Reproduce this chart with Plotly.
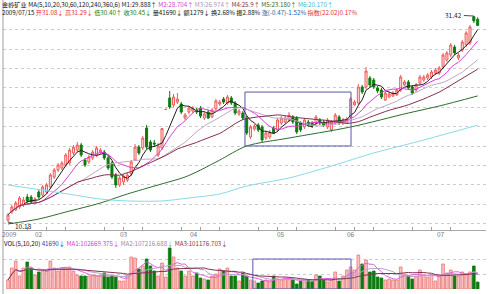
import plotly.graph_objects as go
import pandas as pd

opens = [10.39, 11.21, 11.42, 11.73, 11.93, 12.76, 12.76, 12.24, 13.27, 12.96,
         13.27, 13.79, 14.82, 15.54, 15.75, 16.06, 16.26, 17.30, 17.60, 18.12,
         16.57, 16.37, 16.78, 17.09, 17.40, 17.40, 16.78, 16.26, 15.03, 14.00,
         14.31, 14.51, 15.13, 16.57, 17.91, 17.81, 19.87, 18.43, 18.33, 17.09,
         17.81, 21.79, 22.97, 22.25, 22.55, 22.35, 20.90, 21.52, 21.63, 21.73,
         21.94, 20.90, 21.52, 21.01, 21.83, 22.35, 22.86, 22.45, 22.97, 22.45,
         21.32, 21.42, 20.90, 18.95, 19.77, 20.18, 19.98, 18.84, 18.95, 19.87,
         19.67, 20.39, 20.49, 20.70, 21.01, 20.90, 20.39, 19.98, 20.49, 20.39,
         20.39, 20.70, 20.49, 19.98, 19.67, 20.39, 21.01, 20.39, 20.39, 21.01,
         22.25, 22.45, 24.10, 24.10, 25.03, 24.82, 24.00, 23.79, 22.76, 23.07,
         23.17, 23.28, 23.79, 24.31, 24.62, 24.10, 23.79, 24.51, 24.82, 25.03,
         25.13, 25.54, 25.54, 26.16, 26.88, 27.40, 28.22, 27.09, 27.91, 28.43,
         28.64, 31.35, 31.08]
closes = [10.90, 11.73, 12.14, 12.66, 12.45, 12.35, 12.24, 12.55, 12.76, 13.79,
          14.00, 15.03, 15.54, 16.06, 16.26, 17.09, 17.60, 17.91, 18.12, 17.09,
          16.06, 16.88, 17.40, 17.81, 17.60, 16.78, 15.75, 14.82, 14.00, 14.72,
          14.92, 15.03, 16.37, 17.91, 17.30, 18.84, 17.91, 17.60, 18.22, 18.02,
          19.82, 21.80, 22.04, 23.07, 22.86, 21.52, 21.21, 21.94, 21.94, 21.52,
          21.11, 21.32, 20.90, 21.73, 22.66, 22.55, 22.55, 23.07, 22.45, 21.42,
          21.63, 20.90, 19.36, 19.98, 20.08, 19.67, 18.64, 19.36, 19.46, 19.36,
          20.70, 20.90, 20.90, 21.21, 20.49, 19.46, 19.67, 20.70, 20.18, 20.08,
          21.01, 20.39, 20.18, 20.70, 20.49, 21.21, 20.39, 20.70, 20.80, 22.86,
          22.55, 24.10, 23.58, 25.75, 24.31, 24.10, 23.69, 23.07, 23.48, 23.38,
          23.48, 23.79, 25.13, 24.62, 24.00, 23.48, 24.31, 25.13, 25.13, 25.34,
          25.65, 25.85, 26.06, 27.40, 27.61, 28.43, 27.61, 27.40, 28.74, 29.67,
          30.29, 30.92, 30.45]
highs = [11.11, 11.93, 12.35, 12.86, 12.76, 13.07, 12.96, 12.76, 13.48, 14.00,
         14.20, 15.23, 15.75, 16.26, 16.47, 17.30, 17.81, 18.12, 18.43, 18.33,
         16.78, 17.09, 17.60, 18.02, 17.81, 17.60, 16.99, 16.47, 15.23, 14.92,
         15.13, 15.23, 16.57, 18.22, 18.12, 19.05, 20.18, 18.64, 18.64, 18.33,
         19.82, 21.80, 23.69, 23.38, 23.48, 22.55, 21.42, 22.14, 22.14, 21.94,
         22.14, 21.52, 21.73, 21.94, 22.86, 22.76, 23.07, 23.28, 23.17, 22.66,
         21.83, 21.63, 21.11, 20.18, 20.29, 20.39, 20.18, 19.56, 19.67, 20.08,
         20.90, 21.11, 21.11, 21.52, 21.21, 21.11, 20.59, 20.90, 20.70, 20.59,
         21.21, 20.90, 20.70, 20.90, 20.70, 21.42, 21.21, 20.90, 21.01, 23.07,
         22.76, 24.41, 24.31, 26.16, 25.23, 25.03, 24.20, 24.00, 23.69, 23.58,
         23.69, 24.00, 25.34, 24.82, 24.82, 24.31, 24.51, 25.34, 25.34, 25.54,
         25.85, 26.06, 26.27, 27.61, 27.81, 28.64, 28.43, 27.61, 28.95, 29.87,
         30.49, 31.42, 31.29]
lows = [10.18, 11.01, 11.32, 11.52, 11.73, 12.14, 12.04, 12.04, 12.55, 12.76,
        13.07, 13.58, 14.62, 15.34, 15.54, 15.85, 16.06, 17.09, 17.40, 16.88,
        15.85, 16.16, 16.57, 16.88, 17.19, 16.57, 15.54, 14.62, 13.69, 13.79,
        14.00, 14.31, 14.92, 16.47, 17.09, 17.60, 17.71, 17.40, 17.91, 16.88,
        17.60, 21.79, 21.83, 22.04, 22.35, 21.32, 20.70, 21.32, 21.42, 21.32,
        20.90, 20.70, 20.80, 20.90, 21.63, 22.14, 22.35, 22.25, 22.25, 21.21,
        21.11, 20.70, 19.15, 18.74, 19.56, 19.46, 18.43, 18.64, 18.74, 19.25,
        19.46, 20.18, 20.29, 20.49, 20.29, 19.25, 19.46, 19.77, 19.98, 19.87,
        20.18, 20.18, 19.98, 19.77, 19.46, 20.18, 20.18, 20.18, 20.29, 20.90,
        22.14, 22.25, 23.38, 23.89, 24.10, 23.89, 23.48, 22.86, 22.66, 22.97,
        23.07, 23.17, 23.58, 24.20, 23.79, 23.28, 23.58, 24.31, 24.62, 24.82,
        24.92, 25.34, 25.34, 25.96, 26.68, 27.19, 27.40, 26.88, 27.71, 28.22,
        28.43, 30.70, 30.40]
volumes = [54000, 126000, 168000, 78000, 126000, 162000, 126000, 84000, 102000, 108000,
           108000, 168000, 126000, 108000, 126000, 126000, 132000, 108000, 84000, 78000,
           78000, 78000, 84000, 78000, 78000, 96000, 72000, 78000, 72000, 48000,
           48000, 84000, 192000, 186000, 120000, 138000, 180000, 138000, 108000, 78000,
           156000, 72000, 246000, 192000, 126000, 108000, 78000, 108000, 78000, 96000,
           66000, 60000, 54000, 78000, 90000, 120000, 108000, 126000, 78000, 78000,
           48000, 96000, 78000, 54000, 48000, 36000, 48000, 54000, 48000, 78000,
           60000, 54000, 66000, 60000, 60000, 30000, 48000, 42000, 54000, 48000,
           84000, 78000, 54000, 42000, 54000, 102000, 48000, 78000, 114000, 132000,
           114000, 204000, 150000, 174000, 102000, 108000, 72000, 66000, 54000, 60000,
           54000, 54000, 132000, 90000, 78000, 60000, 78000, 114000, 84000, 72000,
           84000, 48000, 78000, 150000, 96000, 114000, 78000, 78000, 102000, 90000,
           102000, 138000, 41690]

# long moving averages at sample dates
ma60_idx = [0, 8, 15, 24, 31, 39, 46, 50, 55, 62, 73, 89, 104, 112, 122]
ma60_val = [9.98, 10.49, 11.21, 12.14, 13.07, 14.00, 14.82, 15.54, 16.57, 18.02,
            18.84, 19.98, 21.42, 22.14, 23.18]
ma120_idx = [0, 14, 24, 31, 40, 47, 55, 62, 73, 84, 95, 107, 122]
ma120_val = [14.00, 13.17, 12.55, 12.35, 12.35, 12.66, 13.07, 13.89, 14.72, 15.95,
             17.30, 18.53, 20.17]

month_labels = ["2009", "02", "03", "04", "05", "06", "07"]
month_pos = [0.5, 8, 30, 48.3, 71, 89, 112.5]

# highlighted consolidation zone (index range and price / volume range)
BOX_MAIN = dict(i0=61.55, i1=89.1, p0=18.02, p1=23.58)
BOX_VOL = dict(i0=63.6, i1=89.1, v0=0, v1=180000)

idx = list(range(len(closes)))
cs = pd.Series(closes)
vs = pd.Series(volumes)

FONT = "Noto Sans CJK SC"
RED_LINE = "#ee5c5c"
RED_FILL = "#ffe2e2"
GREEN = "#0f7a0f"

fig = go.Figure()
fig.add_trace(go.Candlestick(
    x=idx, open=opens, high=highs, low=lows, close=closes,
    increasing=dict(line=dict(color=RED_LINE, width=1), fillcolor=RED_FILL),
    decreasing=dict(line=dict(color=GREEN, width=1), fillcolor=GREEN),
    whiskerwidth=0, showlegend=False, hoverinfo="skip", xaxis="x", yaxis="y"))

ma_specs = [(5, "#1e1e1e"), (10, "#dc3cdc"), (20, "#c0a8c8"), (30, "#84304e")]
for w, c in ma_specs:
    fig.add_trace(go.Scatter(x=idx, y=cs.rolling(w, min_periods=1).mean(), mode="lines",
                             line=dict(color=c, width=1), showlegend=False,
                             hoverinfo="skip", xaxis="x", yaxis="y"))
fig.add_trace(go.Scatter(x=ma60_idx, y=ma60_val, mode="lines",
                         line=dict(color="#2f6a2f", width=1, shape="spline", smoothing=0.8),
                         showlegend=False, hoverinfo="skip", xaxis="x", yaxis="y"))
fig.add_trace(go.Scatter(x=ma120_idx, y=ma120_val, mode="lines",
                         line=dict(color="#86dbe8", width=1, shape="spline", smoothing=0.8),
                         showlegend=False, hoverinfo="skip", xaxis="x", yaxis="y"))

up = [c >= o for o, c in zip(opens, closes)]
fig.add_trace(go.Bar(
    x=idx, y=volumes,
    marker=dict(color=["#f9c4c4" if u else GREEN for u in up],
                line=dict(color=["#e87474" if u else GREEN for u in up], width=0.8)),
    showlegend=False, hoverinfo="skip", xaxis="x2", yaxis="y2"))
for w, c in [(5, "#e060e0"), (10, "#b8a4cc"), (20, "#84304e")]:
    fig.add_trace(go.Scatter(x=idx, y=vs.rolling(w, min_periods=1).mean(), mode="lines",
                             line=dict(color=c, width=1), showlegend=False,
                             hoverinfo="skip", xaxis="x2", yaxis="y2"))

H = 294.0
def py(p):
    return 1 - p / H

shapes = [
    dict(type="line", xref="paper", yref="paper", x0=0, x1=0, y0=0, y1=1,
         line=dict(color="#a0a0a0", width=1)),
    dict(type="rect", xref="x", yref="y", x0=BOX_MAIN["i0"], x1=BOX_MAIN["i1"],
         y0=BOX_MAIN["p0"], y1=BOX_MAIN["p1"], line=dict(color="#5858aa", width=1)),
    dict(type="rect", xref="x2", yref="y2", x0=BOX_VOL["i0"], x1=BOX_VOL["i1"],
         y0=BOX_VOL["v0"], y1=BOX_VOL["v1"], line=dict(color="#5858aa", width=1)),
]

def sp(t, c):
    return f'<span style="color:{c}">{t}</span>'

line1 = ("金岭矿业 MA(5,10,20,30,60,120,240,360,6) " + sp("M1:29.888↑", "#1e1e1e") + " "
         + sp("M2:28.704↑", "#d040d0") + " " + sp("M3:26.974↑", "#a898b8") + " "
         + sp("M4:25.9↑", "#84304e") + " " + sp("M5:23.180↑", "#2f6a2f") + " "
         + sp("M6:20.170↑", "#40b8c8"))
line2 = ("2009/07/15 " + sp("开31.08↓", "#e03030") + " " + sp("高31.29↓", "#e03030") + " "
         + sp("低30.40↑", "#108010") + " " + sp("收30.45↓", "#108010") + " 量41690↓ 额1279↓ "
         + "换2.68% 振2.88% " + sp("涨(-0.47)-1.52%", "#2060a0") + " "
         + sp("指数(22.02)0.17%", "#e03030"))
vol_line = ("VOL(5,10,20) " + sp("41690↓", "#2040c0") + " " + sp("MA1:102669.375↓", "#d040d0")
            + " " + sp("MA2:107216.688↓", "#9a8aaa") + " " + sp("MA3:101176.703↓", "#84304e"))

hi_i = max(idx, key=lambda i: highs[i])
lo_i = min(idx, key=lambda i: lows[i])
annotations = [
    dict(xref="paper", yref="paper", x=-0.006, y=py(4.2), xanchor="left", yanchor="middle",
         text=line1, showarrow=False, font=dict(family=FONT, size=6.2, color="#111")),
    dict(xref="paper", yref="paper", x=-0.006, y=py(12.0), xanchor="left", yanchor="middle",
         text=line2, showarrow=False, font=dict(family=FONT, size=6.2, color="#111")),
    dict(xref="paper", yref="paper", x=-0.002, y=py(243.5), xanchor="left", yanchor="middle",
         text=vol_line, showarrow=False, font=dict(family=FONT, size=6.2, color="#111")),
    dict(xref="x", yref="y", x=hi_i, y=highs[hi_i], text=f"{highs[hi_i]:.2f}", showarrow=True,
         arrowhead=0, arrowwidth=0.8, arrowcolor="#222", ax=-20, ay=-1,
         font=dict(family=FONT, size=6.5, color="#222")),
    dict(xref="x", yref="y", x=lo_i, y=lows[lo_i], text=f"{lows[lo_i]:.2f}", showarrow=True,
         arrowhead=0, arrowwidth=0.8, arrowcolor="#222", ax=15, ay=4,
         font=dict(family=FONT, size=6.5, color="#222")),
]
for lab, pos in zip(month_labels, month_pos):
    annotations.append(dict(xref="x", yref="paper", x=pos, y=py(234.3), text=lab,
                            xanchor="center", yanchor="middle", showarrow=False,
                            font=dict(family=FONT, size=6.5, color="#777")))

fig.update_layout(
    width=490, height=294, margin=dict(l=3, r=4, t=0, b=0),
    paper_bgcolor="white", plot_bgcolor="white", showlegend=False,
    bargap=0.3, boxgap=0.25,
    xaxis=dict(domain=[0, 1], range=[-1.30, 124.16], anchor="y",
               showline=True, linecolor="#a8a8a8", linewidth=1,
               showgrid=False, zeroline=False, ticks="", showticklabels=False,
               minor=dict(ticks="inside", dtick=5, tick0=0, ticklen=3,
                          tickcolor="#a0a0a0", showgrid=False),
               rangeslider=dict(visible=False)),
    yaxis=dict(domain=[py(230), py(14)], range=[9.357, 31.627], anchor="x",
               showticklabels=False, showgrid=True, gridcolor="#cccccc", griddash="dot",
               gridwidth=1, tick0=0, dtick=2, zeroline=False, showline=False, ticks=""),
    xaxis2=dict(domain=[0, 1], anchor="y2", matches="x", showticklabels=False,
                showgrid=False, zeroline=False, showline=False, ticks=""),
    yaxis2=dict(domain=[py(289), py(246)], range=[0, 258000], anchor="x2",
                showticklabels=False, showgrid=True, gridcolor="#cccccc", griddash="dot",
                tick0=0, dtick=90000, zeroline=False, showline=False, ticks=""),
    shapes=shapes, annotations=annotations,
)

fig.write_html("out.html")
